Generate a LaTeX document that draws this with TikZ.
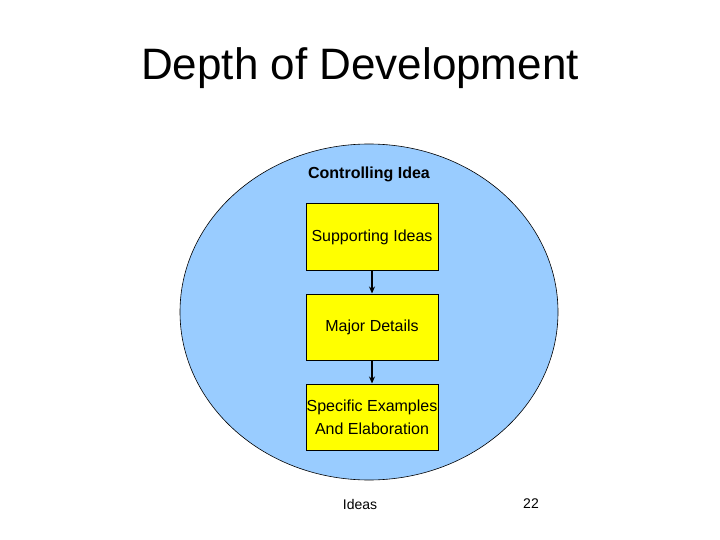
\documentclass[tikz,border=0pt]{standalone}
\usepackage{fontspec}
\setmainfont{Liberation Sans}
\usetikzlibrary{arrows.meta}
\begin{document}
\begin{tikzpicture}[x=1pt,y=-1pt,
  box/.style={draw=black, line width=1pt, fill={rgb,255:red,255;green,255;blue,0}, minimum width=132pt, minimum height=66pt, inner sep=0pt, font=\fontsize{16}{23}\selectfont, align=center},
  conn/.style={draw=black, line width=2pt, -{Stealth[length=7pt,width=6pt]}}]
\useasboundingbox (0,0) rectangle (720,540);
\fill[white] (0,0) rectangle (720,540);
\node (title) at (360,68) {\fontsize{44}{50}\selectfont Depth of Development};
\draw[fill={rgb,255:red,153;green,204;blue,255}, draw=black, line width=0.6pt] (369,312) ellipse [x radius=189, y radius=168];
\node[font=\bfseries\fontsize{16}{18}\selectfont] (ctrl) at (369,174) {Controlling Idea};
\node[box] (sup) at (372,237) {Supporting Ideas};
\node[box] (maj) at (372,327) {Major Details};
\node[box] (spe) at (372,417) {Specific Examples\\And Elaboration};
\draw[conn] (sup) -- (maj);
\draw[conn] (maj) -- (spe);
\node[font=\fontsize{14}{16}\selectfont] (ideas) at (360,504) {Ideas};
\node[font=\fontsize{14}{16}\selectfont] (num) at (531,504) {22};
\end{tikzpicture}
\end{document}
